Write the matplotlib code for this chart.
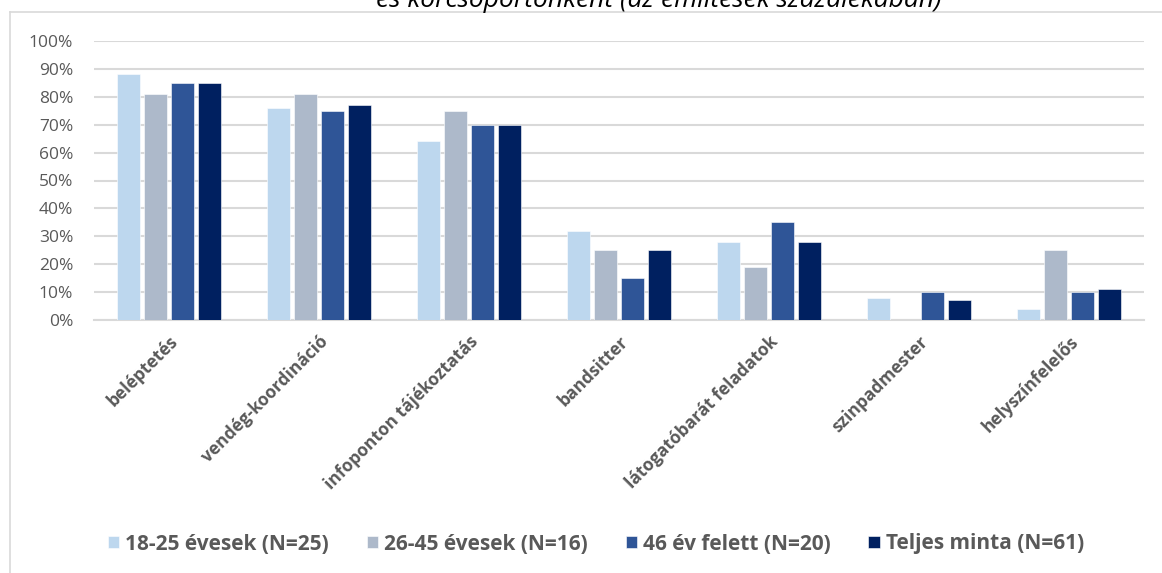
import matplotlib
matplotlib.use("Agg")
import matplotlib.pyplot as plt
import numpy as np
from matplotlib.lines import Line2D
from matplotlib.ticker import PercentFormatter

categories = ["beléptetés", "vendég-koordináció", "infoponton tájékoztatás", "bandsitter",
              "látogatóbarát feladatok", "szinpadmester", "helyszínfelelős"]
series_names = ["18-25 évesek (N=25)", "26-45 évesek (N=16)", "46 év felett (N=20)", "Teljes minta (N=61)"]
s_18_25 = [88, 76, 64, 32, 28, 8, 4]
s_26_45 = [81, 81, 75, 25, 19, 0, 25]
s_46 = [85, 75, 70, 15, 35, 10, 10]
s_total = [85, 77, 70, 25, 28, 7, 11]
title_text = "és korcsoportonként (az említések százalékában)"

colors = ["#BDD7EE", "#ADB9CA", "#2F5597", "#002060"]
series = [s_18_25, s_26_45, s_46, s_total]

plt.rcParams['font.family'] = ['Open Sans', 'DejaVu Sans']

W, H = 1162, 573
fig = plt.figure(figsize=(W / 100, H / 100), dpi=100)
left, right, top, bottom = 94, 1144, 41, 320
ax = fig.add_axes([left / W, 1 - bottom / H, (right - left) / W, (bottom - top) / H])

x = np.arange(len(categories))
step = 0.18
bw = 0.147
for i, (vals, c, name) in enumerate(zip(series, colors, series_names)):
    ax.bar(x + (i - 1.5) * step, vals, width=bw, color=c, label=name,
           edgecolor="white", linewidth=0.4, zorder=3)

ax.set_xlim(-0.5, len(categories) - 0.5)
ax.set_ylim(0, 100)
ax.set_yticks(np.arange(0, 101, 10))
ax.yaxis.set_major_formatter(PercentFormatter(decimals=0))
ax.grid(axis="y", color="#D9D9D9", linewidth=1.5, zorder=0)
for s in ["top", "right", "left"]:
    ax.spines[s].set_visible(False)
ax.spines["bottom"].set_color("#D9D9D9")
ax.spines["bottom"].set_linewidth(1.5)
ax.tick_params(axis="both", length=0, colors="#595959", labelsize=12.5)
ax.tick_params(axis="y", pad=15)
ax.set_xticks(x)
ax.set_xticklabels(categories, rotation=45, ha="right", va="top", rotation_mode="anchor",
                   fontweight="bold", fontsize=12.5, color="#595959")
ax.tick_params(axis="x", pad=9)

leg = fig.legend(loc="center", bbox_to_anchor=(596 / W, 1 - 544 / H), ncol=4, frameon=False,
                 handlelength=0.55, handleheight=0.55, handletextpad=0.3, columnspacing=1.8,
                 prop={"weight": "bold", "size": 15})
for t in leg.get_texts():
    t.set_color("#595959")

fig.text(659 / W, 1 - 7 / H, title_text, ha="center", va="baseline", style="italic",
         fontsize=19, color="#000000")

fig.add_artist(Line2D([10 / W, 10 / W], [0, 1 - 12 / H], color="#D9D9D9", linewidth=1.2,
                      transform=fig.transFigure))
fig.add_artist(Line2D([10 / W, 1], [1 - 12 / H, 1 - 12 / H], color="#D9D9D9", linewidth=1.2,
                      transform=fig.transFigure))

fig.savefig("out.png", dpi=100)
